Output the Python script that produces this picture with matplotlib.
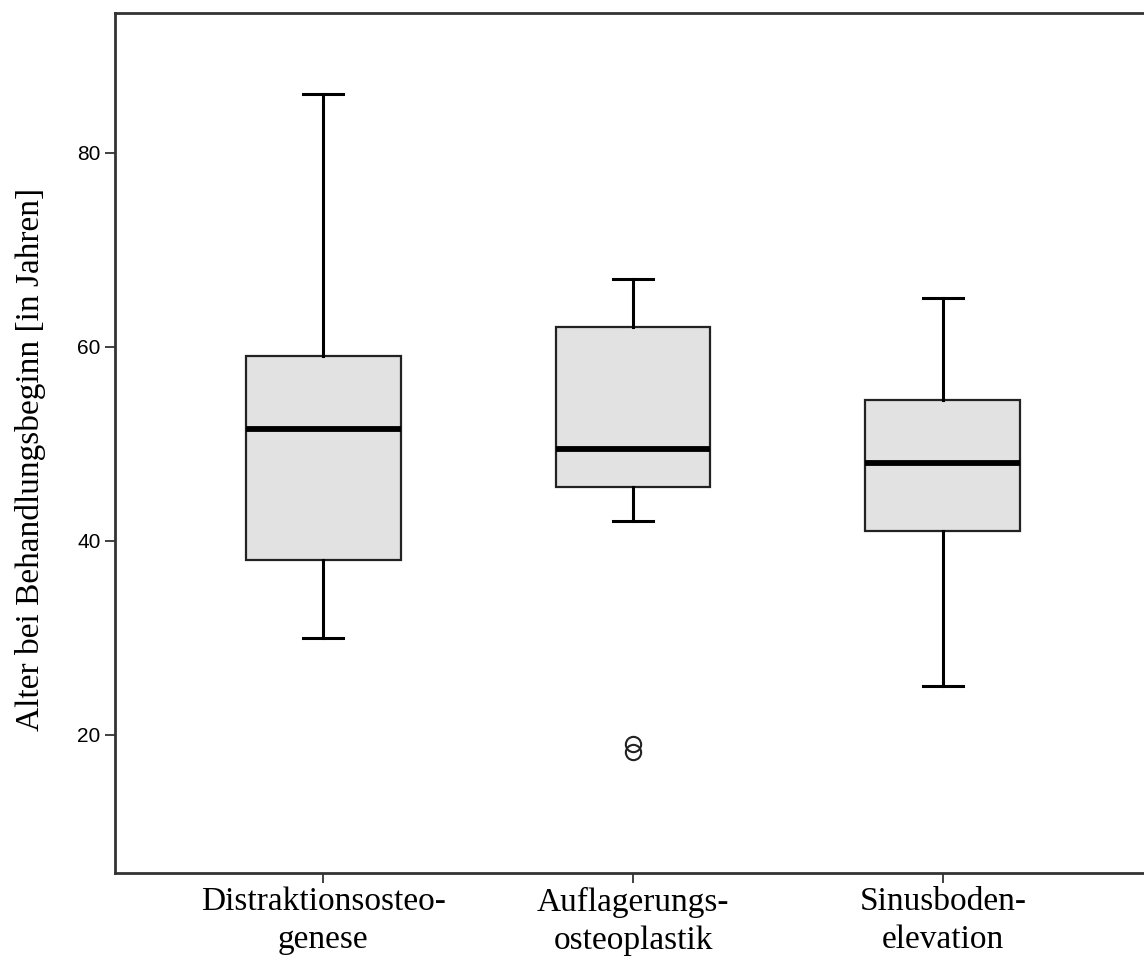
import matplotlib
matplotlib.use("Agg")
import matplotlib.pyplot as plt

categories = ["Distraktionsosteo-\ngenese", "Auflagerungs-\nosteoplastik", "Sinusboden-\nelevation"]
whisker_low = [30, 42, 25]
q1 = [38, 45.5, 41]
median = [51.5, 49.5, 48]
q3 = [59, 62, 54.5]
whisker_high = [86, 67, 65]
outliers = [[], [19, 18.2], []]
yticks = [20, 40, 60, 80]

stats = []
for i in range(len(categories)):
    stats.append(dict(whislo=whisker_low[i], q1=q1[i], med=median[i], q3=q3[i],
                      whishi=whisker_high[i], fliers=outliers[i], label=categories[i]))

fig = plt.figure(figsize=(11.44, 9.6), dpi=100)
ax = fig.add_axes([115/1144, 1-873/960, (1151-115)/1144, (873-13)/960])

ax.bxp(stats, positions=[1, 2, 3], widths=0.5, capwidths=0.13, patch_artist=True,
       boxprops=dict(facecolor="#e2e2e2", edgecolor="#222222", linewidth=1.6),
       whiskerprops=dict(color="black", linewidth=2.2),
       capprops=dict(color="black", linewidth=2.2),
       medianprops=dict(color="black", linewidth=4.2),
       flierprops=dict(marker="o", markerfacecolor="none", markeredgecolor="#222222",
                       markersize=11, markeredgewidth=1.5))

ax.set_xlim(0.329, 3.671)
ax.set_ylim(5.75, 94.4)
ax.set_yticks(yticks)
ax.set_yticklabels([str(t) for t in yticks], family="Liberation Sans", fontsize=15)
ax.set_xticks([1, 2, 3])
ax.set_xticklabels(categories, family="Liberation Serif", fontsize=24, linespacing=1.3)
ax.tick_params(axis="both", direction="out", length=7, width=1.3, color="#333333")
ax.tick_params(axis="x", pad=3)
for s in ax.spines.values():
    s.set_linewidth(2.0)
    s.set_color("#333333")
ax.set_ylabel("Alter bei Behandlungsbeginn [in Jahren]", family="Liberation Serif", fontsize=24)
ax.yaxis.set_label_coords(-0.067, 0.481)

fig.savefig("out.png", dpi=100)
